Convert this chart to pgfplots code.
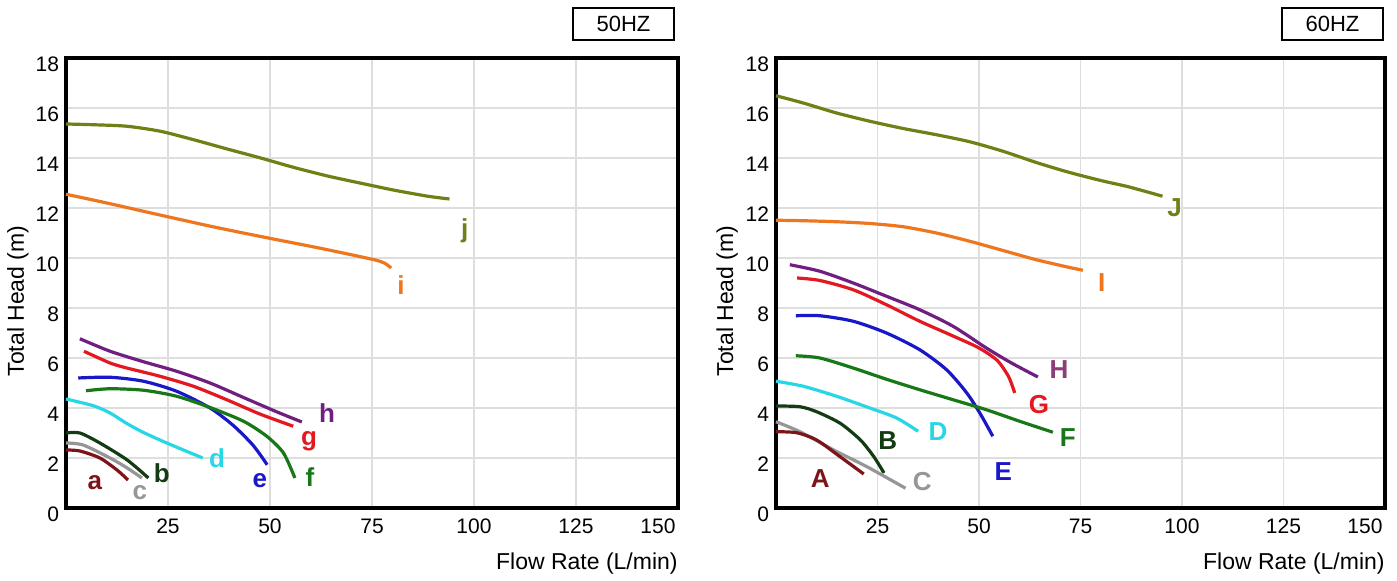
\documentclass[border=0pt]{standalone}
\usepackage{pgfplots}
\pgfplotsset{compat=1.18}
\usepackage{fontspec}
\setmainfont{Liberation Sans}
\definecolor{cj}{RGB}{112,128,20}
\definecolor{ci}{RGB}{238,118,30}
\definecolor{ch}{RGB}{112,30,128}
\definecolor{chl}{RGB}{140,60,120}
\definecolor{cg}{RGB}{228,24,32}
\definecolor{ce}{RGB}{24,24,200}
\definecolor{cf}{RGB}{24,120,24}
\definecolor{cd}{RGB}{40,215,230}
\definecolor{cb}{RGB}{20,60,20}
\definecolor{cc}{RGB}{150,150,150}
\definecolor{ca}{RGB}{125,20,25}
\definecolor{gridc}{RGB}{222,222,222}
\pgfplotsset{pumpaxis/.style={
  scale only axis, height=225pt, anchor=south west,
  xmin=0, xmax=150, ymin=0, ymax=18,
  xtick={25,50,...,150}, ytick={0,2,...,18},
  xticklabels={25,50,75,100,125,{\hspace*{-20pt}150}},
  grid=major, major grid style={gridc, line width=0.8pt},
  major tick length=0pt,
  axis line style={line width=2.4pt, black},
  /pgf/number format/assume math mode=true,
  tick label style={font=\fontsize{10.5}{12}\selectfont},
  yticklabel style={yshift=-3pt},
  xticklabel style={yshift=-2pt},
  xlabel={Flow Rate (L/min)}, ylabel={Total Head (m)},
  label style={font=\fontsize{11.5}{13}\selectfont},
  xlabel style={at={(axis description cs:1,-0.1244)}, anchor=east, inner sep=0pt},
  every axis plot/.append style={smooth, tension=0.45, line width=1.6pt, no markers},
  clip=false,
}}
\tikzset{lab/.style={font=\bfseries\fontsize{13}{13}\selectfont, inner sep=0pt}}
\begin{document}
\begin{tikzpicture}[x=1pt,y=1pt]
\useasboundingbox (0,0) rectangle (698.5,290.5);
% ---------------- 50 Hz ----------------
\begin{axis}[pumpaxis, at={(33pt,36.5pt)}, width=306pt,
  ylabel style={at={(axis description cs:-0.0784,0.46)}, anchor=center}]
\addplot[cj] coordinates {(0,15.36) (6.7,15.33) (14.9,15.27) (23.1,15.07) (31.3,14.73) (39.5,14.36) (47.7,14.0) (55.9,13.62) (64.1,13.28) (72.3,12.99) (80.5,12.71) (88.7,12.47) (94,12.36)};
\addplot[ci] coordinates {(0,12.55) (10,12.2) (23,11.72) (36,11.25) (48,10.85) (62,10.4) (75,9.95) (78,9.8) (79.7,9.6)};
\addplot[ch] coordinates {(3.4,6.77) (10.8,6.27) (19,5.85) (27.1,5.47) (35.3,5.0) (43.5,4.42) (51.6,3.85) (57.8,3.44)};
\addplot[cg] coordinates {(4.4,6.27) (10.8,5.8) (14.9,5.6) (23,5.27) (31.2,4.87) (39.4,4.33) (47.5,3.76) (55.7,3.27)};
\addplot[ce] coordinates {(3,5.2) (10.8,5.23) (19,5.07) (27.1,4.67) (35.3,4.0) (41,3.3) (45.9,2.5) (49.3,1.73)};
\addplot[cf] coordinates {(4.9,4.69) (10.8,4.77) (19,4.71) (27.1,4.47) (35.3,4.02) (43.5,3.47) (49.2,2.87) (53.3,2.2) (56.1,1.2)};
\addplot[cd] coordinates {(0,4.36) (6.7,4.09) (10.8,3.8) (14.9,3.38) (19,3.02) (24.7,2.6) (33.5,2.0)};
\addplot[cb] coordinates {(0,3.0) (3.4,3.0) (8.3,2.6) (15,1.92) (20.2,1.2)};
\addplot[cc] coordinates {(0,2.6) (4.2,2.52) (10.8,2.0) (15,1.6) (18.6,1.2)};
\addplot[ca] coordinates {(0,2.32) (3.4,2.28) (8.3,2.0) (12.5,1.52) (15.2,1.12)};
\node[lab, text=cj] at (axis cs:97.7,11.07) {j};
\node[lab, text=ci] at (axis cs:82.1,8.93) {i};
\node[lab, text=ch] at (axis cs:64,3.8) {h};
\node[lab, text=cg] at (axis cs:59.6,2.67) {g};
\node[lab, text=cf] at (axis cs:59.8,1.24) {f};
\node[lab, text=ce] at (axis cs:47.5,1.1) {e};
\node[lab, text=cd] at (axis cs:37,2.0) {d};
\node[lab, text=cb] at (axis cs:23.5,1.4) {b};
\node[lab, text=cc] at (axis cs:18.1,0.6) {c};
\node[lab, text=ca] at (axis cs:7.1,1.0) {a};
\end{axis}
% ---------------- 60 Hz ----------------
\begin{axis}[pumpaxis, at={(388pt,36.5pt)}, width=304.5pt,
  ylabel style={at={(axis description cs:-0.080,0.46)}, anchor=center}]
\addplot[cj] coordinates {(0,16.49) (6.7,16.2) (14.9,15.8) (23.1,15.47) (31.3,15.18) (39.5,14.93) (47.7,14.65) (55.9,14.27) (64.1,13.82) (72.3,13.42) (80.5,13.08) (87,12.84) (95.2,12.47)};
\addplot[ci] coordinates {(0,11.51) (6.7,11.49) (14.9,11.45) (23.1,11.38) (31.3,11.25) (39.5,11.0) (47.7,10.67) (55.9,10.3) (64.1,9.93) (72.3,9.62) (75.6,9.51)};
\addplot[ch] coordinates {(3.4,9.73) (10.8,9.47) (19,9.0) (27.2,8.47) (35.4,7.93) (43.6,7.27) (51.8,6.4) (58,5.8) (64.5,5.24)};
\addplot[cg] coordinates {(5.2,9.2) (10.8,9.1) (19,8.73) (27.2,8.13) (35.4,7.47) (43.6,6.88) (50,6.4) (54.5,5.9) (57.3,5.25) (58.8,4.6)};
\addplot[ce] coordinates {(4.9,7.69) (10.8,7.69) (19,7.47) (27.2,7.0) (35.4,6.33) (42,5.53) (46.9,4.62) (50.2,3.8) (53.4,2.87)};
\addplot[cf] coordinates {(4.9,6.09) (10.8,6.0) (19,5.6) (27.2,5.15) (35.4,4.73) (43.6,4.33) (51.8,3.93) (60,3.47) (68.2,3.03)};
\addplot[cd] coordinates {(0,5.07) (6.7,4.87) (14.9,4.47) (23.1,4.0) (29.7,3.6) (35,3.07)};
\addplot[cb] coordinates {(0,4.08) (5.9,4.05) (10,3.85) (15.8,3.39) (20.8,2.72) (24.1,2.05) (26.6,1.4)};
\addplot[cc] coordinates {(0,3.45) (5.9,3.05) (14.2,2.32) (22.4,1.65) (31.9,0.79)};
\addplot[ca] coordinates {(0,3.05) (5.1,3.01) (10,2.72) (15.8,2.05) (21.6,1.36)};
\node[lab, text=cj] at (axis cs:98.2,12.0) {J};
\node[lab, text=ci] at (axis cs:80.2,9.0) {I};
\node[lab, text=chl] at (axis cs:69.7,5.53) {H};
\node[lab, text=cg] at (axis cs:64.8,4.13) {G};
\node[lab, text=cf] at (axis cs:71.9,2.8) {F};
\node[lab, text=ce] at (axis cs:56,1.44) {E};
\node[lab, text=cd] at (axis cs:39.9,3.07) {D};
\node[lab, text=cb] at (axis cs:27.5,2.7) {B};
\node[lab, text=cc] at (axis cs:36,1.05) {C};
\node[lab, text=ca] at (axis cs:10.9,1.19) {A};
\end{axis}
\node[draw, line width=1pt, minimum width=50.5pt, minimum height=16pt, inner sep=0pt,
  font=\fontsize{11}{12}\selectfont] at (311.75,278.5) {50HZ};
\node[draw, line width=1pt, minimum width=50.5pt, minimum height=16pt, inner sep=0pt,
  font=\fontsize{11}{12}\selectfont] at (666.25,278.5) {60HZ};
\end{tikzpicture}
\end{document}
